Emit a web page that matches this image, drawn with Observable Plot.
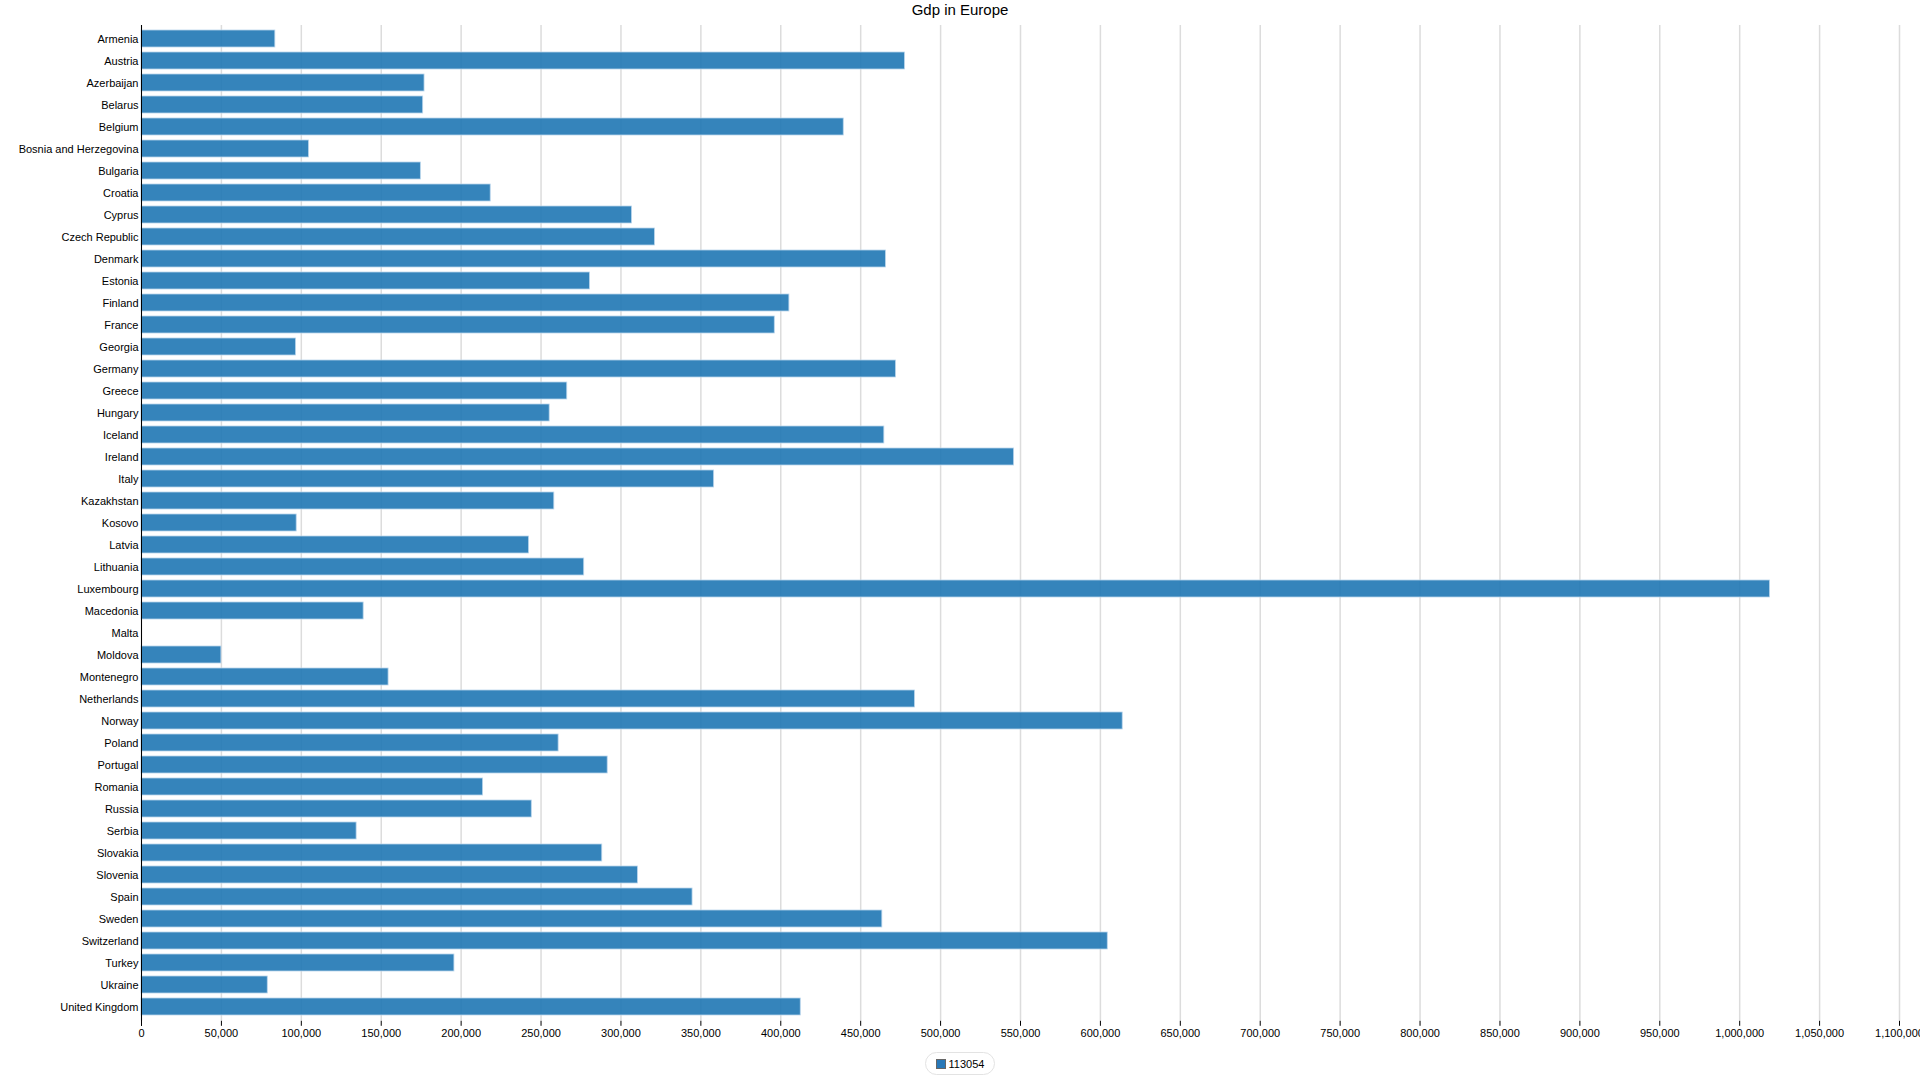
<!DOCTYPE html>
<html>
<head>
<meta charset="utf-8">
<script src="https://cdn.jsdelivr.net/npm/d3@7"></script>
<script src="https://cdn.jsdelivr.net/npm/@observablehq/plot@0.6"></script>
<style>
  html, body { margin: 0; padding: 0; background: #fff; overflow: hidden; }
  body { width: 1920px; height: 1080px; font-family: "Liberation Sans", Arial, sans-serif; }
  #title { height: 20px; line-height: 20px; font-size: 15px; text-align: center; color: #000; }
  #chart svg { display: block; }
  #legend { margin-top: 7px; text-align: center; font-size: 11px; color: #000; }
  #legend .pill { display: inline-flex; align-items: center; gap: 3px; height: 21px; padding: 0 10px;
    border: 1px solid #e3e3e3; border-radius: 12px; }
  #legend .sw { width: 10px; height: 10px; box-sizing: border-box; background: #2878b8; border: 1px solid #666; }
</style>
</head>
<body>
<div id="title">Gdp in Europe</div>
<div id="chart"></div>
<div id="legend"></div>
<script>
const countries = ["Armenia","Austria","Azerbaijan","Belarus","Belgium","Bosnia and Herzegovina","Bulgaria","Croatia","Cyprus","Czech Republic","Denmark","Estonia","Finland","France","Georgia","Germany","Greece","Hungary","Iceland","Ireland","Italy","Kazakhstan","Kosovo","Latvia","Lithuania","Luxembourg","Macedonia","Malta","Moldova","Montenegro","Netherlands","Norway","Poland","Portugal","Romania","Russia","Serbia","Slovakia","Slovenia","Spain","Sweden","Switzerland","Turkey","Ukraine","United Kingdom"];
const gdp = [83750,477700,177100,176250,439400,104800,174800,218500,306900,321250,465800,280600,405400,396250,96700,472100,266400,255400,464800,546000,358300,258300,97100,242500,277000,1019000,139000,null,50000,154600,483950,613950,261000,291700,213750,244200,134600,288300,310600,344800,463550,604600,195800,79000,412500];
const seriesName = "113054";
const xTicks = [0,50000,100000,150000,200000,250000,300000,350000,400000,450000,500000,550000,600000,650000,700000,750000,800000,850000,900000,950000,1000000,1050000,1100000];

const data = countries.map((c, i) => ({country: c, value: gdp[i]}));

const chart = Plot.plot({
  width: 1920,
  height: 1025,
  marginTop: 3.5,
  marginBottom: 24.2,
  marginLeft: 141,
  marginRight: 21,
  style: {fontFamily: "'Liberation Sans', Arial, sans-serif", fontSize: "11px", color: "#000", background: "white"},
  x: {domain: [xTicks[0], xTicks[xTicks.length - 1]], label: null},
  y: {domain: countries, padding: 0.25, label: null},
  marks: [
    Plot.gridX(xTicks, {stroke: "#dcdcdc", strokeOpacity: 1, strokeWidth: 1.5, insetTop: 1.5}),
    Plot.barX(data.filter(d => d.value != null), {
      y: "country", x: "value",
      fill: "#1f77b4", fillOpacity: 0.9,
      stroke: "#b9d5ec", strokeWidth: 0.8
    }),
    Plot.axisX({ticks: xTicks, tickFormat: d3.format(","), tickSize: 5, tickPadding: 3, anchor: "bottom", label: null, stroke: "#000"}),
    Plot.axisY({tickSize: 0, tickPadding: 3, anchor: "left", label: null}),
    Plot.ruleX([0], {stroke: "#000", strokeWidth: 1, insetTop: 1.5, insetBottom: -5})
  ]
});
document.getElementById("chart").appendChild(chart);

const pill = document.createElement("span");
pill.className = "pill";
const sw = document.createElement("span");
sw.className = "sw";
const lab = document.createElement("span");
lab.textContent = seriesName;
pill.appendChild(sw);
pill.appendChild(lab);
document.getElementById("legend").appendChild(pill);
</script>
</body>
</html>
